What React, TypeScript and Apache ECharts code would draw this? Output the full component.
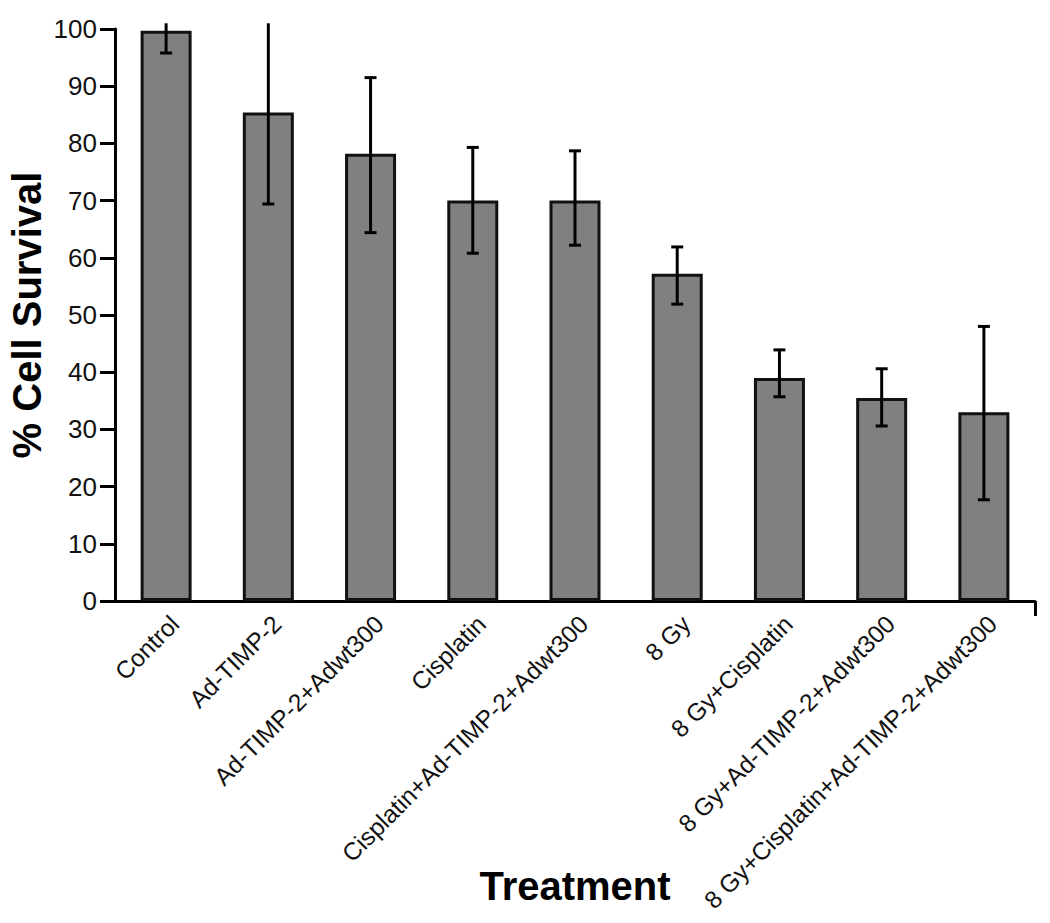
import React, { useEffect, useRef } from "react";
import * as echarts from "echarts";

const categories = [
  "Control",
  "Ad-TIMP-2",
  "Ad-TIMP-2+Adwt300",
  "Cisplatin",
  "Cisplatin+Ad-TIMP-2+Adwt300",
  "8 Gy",
  "8 Gy+Cisplatin",
  "8 Gy+Ad-TIMP-2+Adwt300",
  "8 Gy+Cisplatin+Ad-TIMP-2+Adwt300",
];
const survival = [99.7, 85.4, 78.2, 70.0, 70.0, 57.2, 39.0, 35.5, 33.0];
const errLow = [95.8, 69.4, 64.4, 60.8, 62.2, 51.9, 35.7, 30.6, 17.7];
const errHigh = [101, 101, 91.5, 79.3, 78.7, 61.9, 43.9, 40.6, 48.0];
const yTicks = [0, 10, 20, 30, 40, 50, 60, 70, 80, 90, 100];

const FONT = '"Liberation Sans", Arial, Helvetica, sans-serif';

export default function App() {
  const ref = useRef<HTMLDivElement>(null);
  useEffect(() => {
    if (!ref.current) return;
    const chart = echarts.init(ref.current, null, { renderer: "svg" });
    const errData = categories.map((_, i) => [i, errLow[i], errHigh[i]]);
    chart.setOption({
      animation: false,
      backgroundColor: "#ffffff",
      textStyle: { fontFamily: FONT },
      grid: {
        left: 115,
        right: 15,
        top: 29,
        bottom: 322,
        containLabel: false,
        outerBoundsMode: "none",
      },
      xAxis: [
        {
          type: "category",
          data: categories,
          name: "Treatment",
          nameLocation: "middle",
          nameGap: 265,
          nameMoveOverlap: false,
          nameTextStyle: { fontSize: 40, fontWeight: "bold", color: "#000", fontFamily: FONT },
          axisLine: { lineStyle: { color: "#000", width: 3 } },
          axisTick: { show: false },
          axisLabel: {
            rotate: 45,
            interval: 0,
            margin: 10,
            verticalAlign: "top",
            fontSize: 24.5,
            color: "#111",
            fontFamily: FONT,
          },
        },
        {
          type: "value",
          min: 0,
          max: 1,
          position: "bottom",
          axisLine: { show: false },
          axisLabel: { show: false },
          splitLine: { show: false },
          axisTick: { show: true, customValues: [1], length: 15, lineStyle: { color: "#000", width: 3 } },
        },
      ],
      yAxis: {
        type: "value",
        min: 0,
        max: 100,
        interval: 10,
        name: "% Cell Survival",
        nameLocation: "middle",
        nameGap: 68,
        nameMoveOverlap: false,
        nameTextStyle: { fontSize: 40, fontWeight: "bold", color: "#000", fontFamily: FONT },
        axisLine: { show: true, lineStyle: { color: "#000", width: 3 } },
        axisTick: { show: true, length: 15, lineStyle: { color: "#000", width: 3 } },
        axisLabel: {
          margin: 18,
          fontSize: 26,
          color: "#111",
          fontFamily: FONT,
          customValues: yTicks,
        },
        splitLine: { show: false },
      },
      series: [
        {
          type: "bar",
          data: survival,
          barWidth: 51,
          itemStyle: { color: "#808080", borderColor: "#111", borderWidth: 3 },
        },
        {
          type: "custom",
          clip: false,
          data: errData,
          z: 5,
          renderItem: (params: any, api: any) => {
            const idx = api.value(0);
            const lo = api.coord([idx, api.value(1)]);
            const hiVal = api.value(2);
            const hi = api.coord([idx, hiVal]);
            const cap = 6;
            const style = { stroke: "#000", lineWidth: 3 };
            const children: any[] = [
              { type: "line", shape: { x1: lo[0], y1: lo[1], x2: hi[0], y2: hi[1] }, style },
              { type: "line", shape: { x1: lo[0] - cap, y1: lo[1], x2: lo[0] + cap, y2: lo[1] }, style },
            ];
            if (hiVal <= 100) {
              children.push({ type: "line", shape: { x1: hi[0] - cap, y1: hi[1], x2: hi[0] + cap, y2: hi[1] }, style });
            }
            return { type: "group", children };
          },
        },
      ],
    });
    return () => chart.dispose();
  }, []);
  return (
    <div
      ref={ref}
      style={{ position: "absolute", left: 0, top: 0, width: 1050, height: 923, background: "#fff" }}
    />
  );
}
